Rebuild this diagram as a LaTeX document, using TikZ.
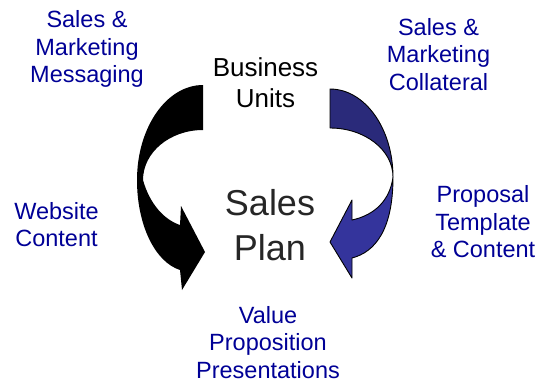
\documentclass[tikz,border=0pt]{standalone}
\usepackage{fontspec}
\setmainfont{Liberation Sans}

\definecolor{labelblue}{RGB}{0,0,150}
\definecolor{arrowblue}{RGB}{52,52,156}
\definecolor{arrowdark}{RGB}{42,42,122}

\tikzset{
  bluetext/.style={text=labelblue, align=center, inner sep=0pt, anchor=base,
    font=\fontsize{23.5}{27.5}\selectfont},
  blacktext/.style={text=black, align=center, inner sep=0pt, anchor=base},
  twist/.style={draw=black, line width=0.9pt, line join=round}
}

\begin{document}
\begin{tikzpicture}[x=1pt,y=-1pt]
  \useasboundingbox (0,0) rectangle (538,384);

  % left curved arrow (black)
  \fill[black] (203,85) arc[start angle=270, end angle=180, x radius=66, y radius=95]
    .. controls (137,225) and (155,262) .. (180,270)
    -- (182,290) -- (205,252) -- (181,206) -- (180,225)
    .. controls (165,220) and (150,205) .. (143,180)
    arc[start angle=180, end angle=270, x radius=60, y radius=50] -- cycle;

  % right curved arrow (blue), lower half first
  \filldraw[twist, fill=arrowblue] (393,177)
    .. controls (393,230) and (375,252) .. (352,258)
    -- (352,278) -- (330,242) -- (352,200) -- (352,220)
    .. controls (375,215) and (390,200) .. (393,177) -- cycle;
  \filldraw[twist, fill=arrowdark] (330,89)
    arc[start angle=270, end angle=360, x radius=63, y radius=88]
    arc[start angle=0, end angle=-90, x radius=63, y radius=49] -- cycle;

  % texts (anchored at the baseline of the last line)
  \node[bluetext] (messaging) at (87,82.7) {Sales \&\\Marketing\\Messaging};
  \node[bluetext] (collateral) at (438.5,90) {Sales \&\\Marketing\\Collateral};
  \node[bluetext] (website) at (56.5,246.7) {Website\\Content};
  \node[bluetext] (proposal) at (483,257.7) {Proposal\\Template\\\& Content};
  \node[bluetext] (valueprop) at (268,378.3) {Value\\Proposition\\Presentations};
  \node[blacktext, font=\fontsize{26}{31}\selectfont] (units) at (265.5,107.3) {Business\\Units};
  \node[blacktext, text=black!85, font=\fontsize{36}{45}\selectfont] (plan) at (270,260) {Sales\\Plan};
\end{tikzpicture}
\end{document}
